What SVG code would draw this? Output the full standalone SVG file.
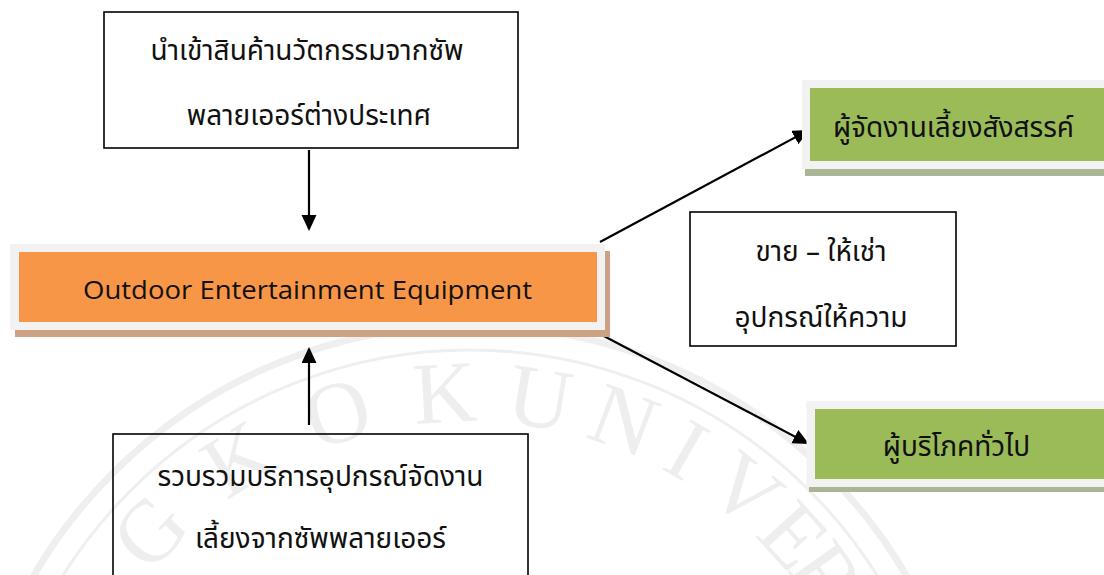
<svg xmlns="http://www.w3.org/2000/svg" width="1104" height="575" viewBox="0 0 1104 575">
  <style>
    .wm { font-family: "Liberation Serif", serif; font-size: 88px; fill: #eeeeee; text-anchor: middle; dominant-baseline: central; }
    .ring { fill: none; stroke: #efefef; }
    .box { fill: none; stroke: #000; stroke-width: 1.6; }
    .th { font-family: "Noto Sans Thai", "Noto Sans Thai UI", "Loma", "Garuda", "Tlwg Typo", "DejaVu Sans", sans-serif; font-size: 28px; fill: #111; text-anchor: middle; }
    .en { font-family: "Open Sans", "Noto Sans", sans-serif; font-size: 26px; fill: #111; text-anchor: middle; }
    .conn { stroke: #000; stroke-width: 2.2; fill: none; marker-end: url(#arrow); }
  </style>
  <defs>
    <marker id="arrow" markerUnits="userSpaceOnUse" markerWidth="18" markerHeight="16" refX="14" refY="7.5" orient="auto">
      <path d="M0,0 L16,7.5 L0,15 z" fill="#000"/>
    </marker>
  </defs>
  <rect width="1104" height="575" fill="#fff"/>

  <g id="watermark">
    <circle class="ring" cx="470" cy="830" r="505" stroke-width="7"/>
    <circle class="ring" cx="470" cy="830" r="480" stroke-width="3"/>
    <text class="wm" x="470" y="392" transform="rotate(-47 470 830)">G</text>
    <text class="wm" x="470" y="392" transform="rotate(-32 470 830)">K</text>
    <text class="wm" x="470" y="392" transform="rotate(-17.6 470 830)">O</text>
    <text class="wm" x="470" y="392" transform="rotate(-3.3 470 830)">K</text>
    <text class="wm" x="470" y="392" transform="rotate(9.2 470 830)">U</text>
    <text class="wm" x="470" y="392" transform="rotate(20.6 470 830)">N</text>
    <text class="wm" x="470" y="392" transform="rotate(29.7 470 830)">I</text>
    <text class="wm" x="470" y="392" transform="rotate(39 470 830)">V</text>
    <text class="wm" x="470" y="392" transform="rotate(47.7 470 830)">E</text>
    <text class="wm" x="470" y="392" transform="rotate(54.5 470 830)">R</text>
  </g>

  <g id="connectors">
    <line class="conn" x1="309" y1="150" x2="309" y2="229"/>
    <line class="conn" x1="309" y1="425" x2="309" y2="349"/>
    <line class="conn" x1="600" y1="242" x2="807.2" y2="130.9"/>
    <line class="conn" x1="600" y1="334" x2="807.2" y2="443.1"/>
  </g>

  <g id="node-import">
    <rect class="box" x="104" y="12" width="414" height="136"/>
    <text class="th" x="307" y="60">นำเข้าสินค้านวัตกรรมจากซัพ</text>
    <text class="th" x="309" y="125">พลายเออร์ต่างประเทศ</text>
  </g>

  <g id="node-equipment">
    <rect x="15" y="251" width="595" height="86" fill="#CBA283"/>
    <rect x="10" y="244" width="595" height="86" fill="#F2F2F2"/>
    <rect x="19" y="252" width="578" height="70" fill="#F79646"/>
    <text class="en" x="307.5" y="299" textLength="449" lengthAdjust="spacingAndGlyphs">Outdoor Entertainment Equipment</text>
  </g>

  <g id="node-sell-rent">
    <rect class="box" x="690" y="212" width="266" height="134"/>
    <text class="th" x="821" y="261">ขาย – ให้เช่า</text>
    <text class="th" x="821" y="327">อุปกรณ์ให้ความ</text>
  </g>

  <g id="node-collect">
    <rect class="box" x="113" y="434" width="415" height="160"/>
    <text class="th" x="320.5" y="486">รวบรวมบริการอุปกรณ์จัดงาน</text>
    <text class="th" x="320.5" y="548">เลี้ยงจากซัพพลายเออร์</text>
  </g>

  <g id="node-party">
    <rect x="805" y="87" width="310" height="89" fill="#AAB595"/>
    <rect x="802" y="80" width="310" height="89" fill="#F2F2F2"/>
    <rect x="810" y="88" width="300" height="73" fill="#9BBB59"/>
    <text class="th" x="953.5" y="137">ผู้จัดงานเลี้ยงสังสรรค์</text>
  </g>

  <g id="node-consumer">
    <rect x="809" y="408" width="310" height="84" fill="#AAB595"/>
    <rect x="806.5" y="401" width="310" height="86" fill="#F2F2F2"/>
    <rect x="815" y="409" width="300" height="70" fill="#9BBB59"/>
    <text class="th" x="956.5" y="456">ผู้บริโภคทั่วไป</text>
  </g>
</svg>
